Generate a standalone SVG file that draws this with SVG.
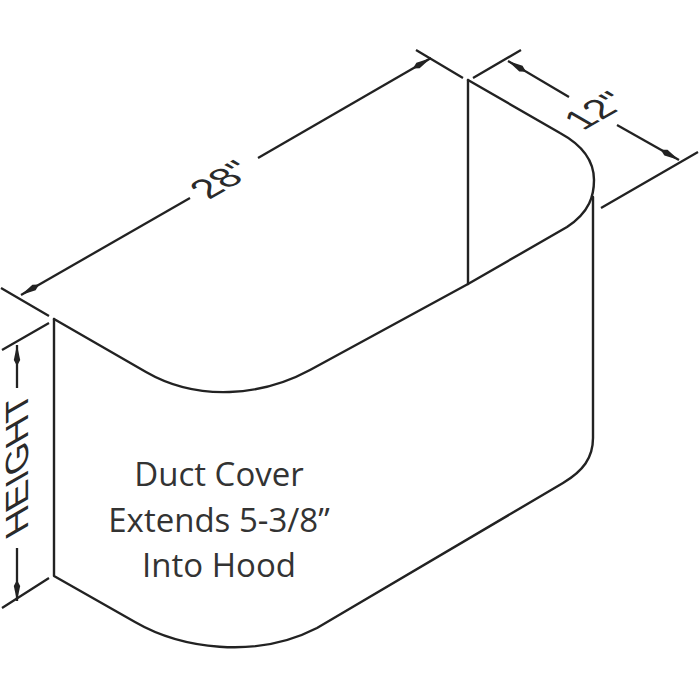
<svg xmlns="http://www.w3.org/2000/svg" width="700" height="700" viewBox="0 0 700 700">
<style>
.l{fill:none;stroke:#222;stroke-width:2.4;stroke-linecap:round;stroke-linejoin:round}
.t{stroke:#222;stroke-width:2.3;fill:none}
.d{font-family:"Liberation Sans",Arial,sans-serif;font-size:38px;fill:#2a2a2a}
.h{font-size:37px}
.c{font-family:"Open Sans","Liberation Sans",sans-serif;font-size:33px;fill:#333;text-anchor:middle}
</style>
<defs>
<marker id="a" viewBox="0 0 22 10" refX="22" refY="5" markerWidth="22" markerHeight="10" markerUnits="userSpaceOnUse" orient="auto-start-reverse">
<path d="M22 5L7 1.800L1 5L7 8.200z" fill="#222"/>
</marker>
</defs>
<rect width="700" height="700" fill="#fff"/>
<g id="duct-cover">
<path class="l" d="M54 319L146 372C198 402 262 396 310 370L468 284L567 227C590 212 594 195 594 180C594 160 582 145 560 133L468 80"/>
<path class="l" d="M468 80V284"/>
<path class="l" d="M54 319V576L135 622C180 648 255 660 317 628L563 483C583 471 593 458 593 438V197"/>
</g>
<g id="connectors">
<path class="t" d="M1 288L49 316M49 323L2 350M49 578L2 608M416 50L463 78M473 78L521 50M601 208L698 152"/>
<path class="t" d="M17 388V345" marker-end="url(#a)"/>
<path class="t" d="M17 548V601" marker-end="url(#a)"/>
<path class="t" d="M190 198L21 295" marker-end="url(#a)"/>
<path class="t" d="M258 158L431 58" marker-end="url(#a)"/>
<path class="t" d="M569 97L508 61" marker-end="url(#a)"/>
<path class="t" d="M617 125L679 160" marker-end="url(#a)"/>
</g>
<g id="dimension-labels">
<text class="d h" transform="matrix(0 -1 .866 -.5 28 529)">HEIGHT</text>
<text class="d" transform="matrix(.866 -.5 .866 .5 209 200)">28"</text>
<text class="d" transform="matrix(.866 -.5 .866 .5 583 131)">12"</text>
</g>
<g id="note">
<text class="c" x="219" y="486">Duct Cover</text>
<text class="c" x="219" y="532">Extends 5-3/8”</text>
<text class="c" x="219" y="577">Into Hood</text>
</g>
</svg>
